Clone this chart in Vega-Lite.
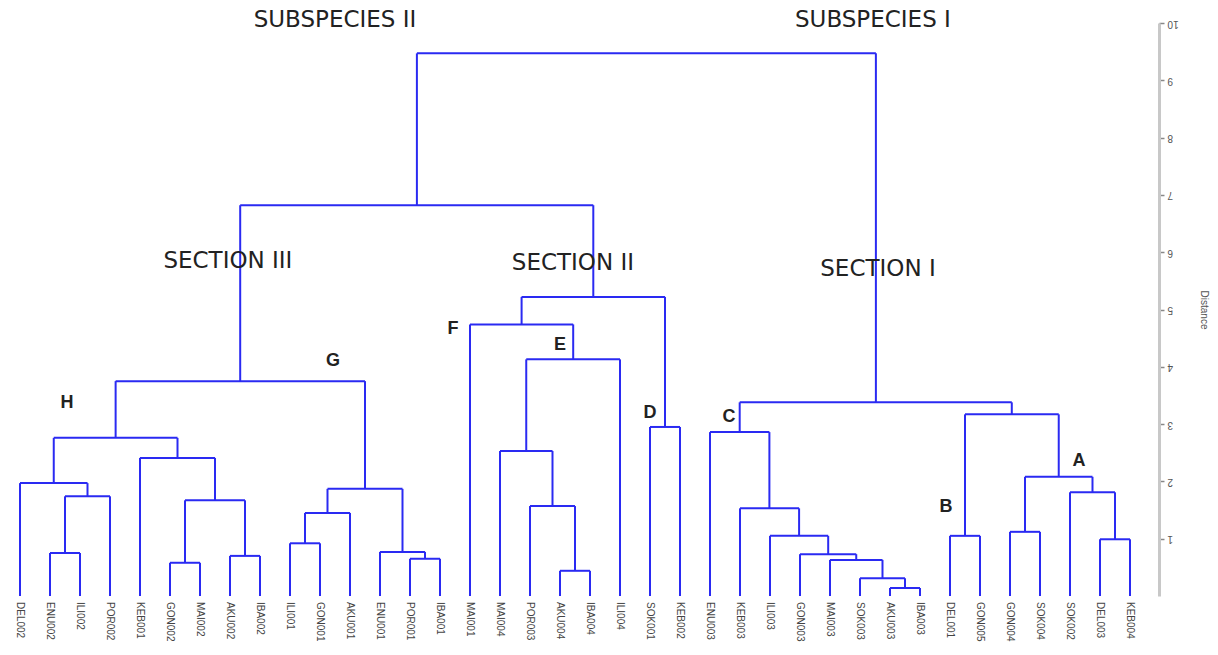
{
  "$schema": "https://vega.github.io/schema/vega-lite/v6.json",
  "width": 1159,
  "height": 573,
  "autosize": "none",
  "padding": {"left": 0, "top": 23, "right": 59, "bottom": 59},
  "background": "white",
  "config": {
    "view": {"stroke": null},
    "axisY": {
      "grid": false,
      "domainColor": "#c8c8c8", "domainWidth": 3,
      "tickColor": "#888888", "tickSize": 5, "tickWidth": 1.5,
      "labelAngle": 180, "labelAlign": "right", "labelBaseline": "middle",
      "labelPadding": 3, "labelFont": "Liberation Sans", "labelFontSize": 10,
      "labelColor": "#555555",
      "titleAngle": 90, "titleFont": "Liberation Sans", "titleFontSize": 10,
      "titleFontWeight": "normal", "titleColor": "#555555", "titlePadding": 20
    }
  },
  "datasets": {
    "leaves": [
      {"i": 0, "name": "DEL002"}, {"i": 1, "name": "ENU002"}, {"i": 2, "name": "ILI002"},
      {"i": 3, "name": "POR002"}, {"i": 4, "name": "KEB001"}, {"i": 5, "name": "GON002"},
      {"i": 6, "name": "MAI002"}, {"i": 7, "name": "AKU002"}, {"i": 8, "name": "IBA002"},
      {"i": 9, "name": "ILI001"}, {"i": 10, "name": "GON001"}, {"i": 11, "name": "AKU001"},
      {"i": 12, "name": "ENU001"}, {"i": 13, "name": "POR001"}, {"i": 14, "name": "IBA001"},
      {"i": 15, "name": "MAI001"}, {"i": 16, "name": "MAI004"}, {"i": 17, "name": "POR003"},
      {"i": 18, "name": "AKU004"}, {"i": 19, "name": "IBA004"}, {"i": 20, "name": "ILI004"},
      {"i": 21, "name": "SOK001"}, {"i": 22, "name": "KEB002"}, {"i": 23, "name": "ENU003"},
      {"i": 24, "name": "KEB003"}, {"i": 25, "name": "ILI003"}, {"i": 26, "name": "GON003"},
      {"i": 27, "name": "MAI003"}, {"i": 28, "name": "SOK003"}, {"i": 29, "name": "AKU003"},
      {"i": 30, "name": "IBA003"}, {"i": 31, "name": "DEL001"}, {"i": 32, "name": "GON005"},
      {"i": 33, "name": "GON004"}, {"i": 34, "name": "SOK004"}, {"i": 35, "name": "SOK002"},
      {"i": 36, "name": "DEL003"}, {"i": 37, "name": "KEB004"}
    ],
    "nodes": [
      {"node": "n1", "xl": 1, "xr": 2, "hl": 0, "hr": 0, "h": 0.75},
      {"node": "n2", "xl": 1.5, "xr": 3, "hl": 0.75, "hr": 0, "h": 1.74},
      {"node": "n3", "xl": 0, "xr": 2.25, "hl": 0, "hr": 1.74, "h": 1.97},
      {"node": "n4", "xl": 5, "xr": 6, "hl": 0, "hr": 0, "h": 0.58},
      {"node": "n5", "xl": 7, "xr": 8, "hl": 0, "hr": 0, "h": 0.7},
      {"node": "n6", "xl": 5.5, "xr": 7.5, "hl": 0.58, "hr": 0.7, "h": 1.67},
      {"node": "n7", "xl": 4, "xr": 6.5, "hl": 0, "hr": 1.67, "h": 2.41},
      {"node": "H", "xl": 1.125, "xr": 5.25, "hl": 1.97, "hr": 2.41, "h": 2.76},
      {"node": "n9", "xl": 9, "xr": 10, "hl": 0, "hr": 0, "h": 0.92},
      {"node": "n10", "xl": 9.5, "xr": 11, "hl": 0.92, "hr": 0, "h": 1.45},
      {"node": "n11", "xl": 13, "xr": 14, "hl": 0, "hr": 0, "h": 0.65},
      {"node": "n12", "xl": 12, "xr": 13.5, "hl": 0, "hr": 0.65, "h": 0.77},
      {"node": "G", "xl": 10.25, "xr": 12.75, "hl": 1.45, "hr": 0.77, "h": 1.87},
      {"node": "S3", "xl": 3.1875, "xr": 11.5, "hl": 2.76, "hr": 1.87, "h": 3.75},
      {"node": "n15", "xl": 18, "xr": 19, "hl": 0, "hr": 0, "h": 0.44},
      {"node": "n16", "xl": 17, "xr": 18.5, "hl": 0, "hr": 0.44, "h": 1.57},
      {"node": "n17", "xl": 16, "xr": 17.75, "hl": 0, "hr": 1.57, "h": 2.53},
      {"node": "E", "xl": 16.875, "xr": 20, "hl": 2.53, "hr": 0, "h": 4.13},
      {"node": "F", "xl": 15, "xr": 18.44, "hl": 0, "hr": 4.13, "h": 4.74},
      {"node": "D", "xl": 21, "xr": 22, "hl": 0, "hr": 0, "h": 2.95},
      {"node": "S2", "xl": 16.72, "xr": 21.5, "hl": 4.74, "hr": 2.95, "h": 5.22},
      {"node": "SP2", "xl": 7.34, "xr": 19.11, "hl": 3.75, "hr": 5.22, "h": 6.82},
      {"node": "n23", "xl": 29, "xr": 30, "hl": 0, "hr": 0, "h": 0.14},
      {"node": "n24", "xl": 28, "xr": 29.5, "hl": 0, "hr": 0.14, "h": 0.31},
      {"node": "n25", "xl": 27, "xr": 28.75, "hl": 0, "hr": 0.31, "h": 0.63},
      {"node": "n26", "xl": 26, "xr": 27.875, "hl": 0, "hr": 0.63, "h": 0.73},
      {"node": "n27", "xl": 25, "xr": 26.94, "hl": 0, "hr": 0.73, "h": 1.05},
      {"node": "n28", "xl": 24, "xr": 25.97, "hl": 0, "hr": 1.05, "h": 1.53},
      {"node": "C", "xl": 23, "xr": 24.98, "hl": 0, "hr": 1.53, "h": 2.86},
      {"node": "B", "xl": 31, "xr": 32, "hl": 0, "hr": 0, "h": 1.05},
      {"node": "n31", "xl": 33, "xr": 34, "hl": 0, "hr": 0, "h": 1.12},
      {"node": "n32", "xl": 36, "xr": 37, "hl": 0, "hr": 0, "h": 0.99},
      {"node": "n33", "xl": 35, "xr": 36.5, "hl": 0, "hr": 0.99, "h": 1.81},
      {"node": "A", "xl": 33.5, "xr": 35.75, "hl": 1.12, "hr": 1.81, "h": 2.08},
      {"node": "n35", "xl": 31.5, "xr": 34.625, "hl": 1.05, "hr": 2.08, "h": 3.17},
      {"node": "S1", "xl": 23.99, "xr": 33.06, "hl": 2.86, "hr": 3.17, "h": 3.38},
      {"node": "root", "xl": 13.23, "xr": 28.53, "hl": 6.82, "hr": 3.38, "h": 9.47}
    ],
    "labels": [
      {"text": "SUBSPECIES  II", "x": 10.5, "y": 10.05, "kind": "big"},
      {"text": "SUBSPECIES I", "x": 28.43, "y": 10.05, "kind": "big"},
      {"text": "SECTION III", "x": 6.93, "y": 5.84, "kind": "big"},
      {"text": "SECTION II", "x": 18.43, "y": 5.81, "kind": "big"},
      {"text": "SECTION I", "x": 28.6, "y": 5.7, "kind": "big"},
      {"text": "H", "x": 1.57, "y": 3.37, "kind": "letter"},
      {"text": "G", "x": 10.43, "y": 4.1, "kind": "letter"},
      {"text": "F", "x": 14.43, "y": 4.66, "kind": "letter"},
      {"text": "E", "x": 18.0, "y": 4.38, "kind": "letter"},
      {"text": "D", "x": 21.0, "y": 3.19, "kind": "letter"},
      {"text": "C", "x": 23.63, "y": 3.12, "kind": "letter"},
      {"text": "B", "x": 30.87, "y": 1.55, "kind": "letter"},
      {"text": "A", "x": 35.3, "y": 2.35, "kind": "letter"}
    ]
  },
  "layer": [
    {
      "data": {"name": "nodes"},
      "mark": {"type": "rule", "color": "#2a2af2", "strokeWidth": 2},
      "encoding": {
        "x": {
          "field": "xl", "type": "quantitative",
          "scale": {"domain": [-0.6667, 37.967], "nice": false, "zero": false},
          "axis": null
        },
        "x2": {"field": "xr"},
        "y": {
          "field": "h", "type": "quantitative",
          "scale": {"domain": [0, 10], "nice": false, "zero": true},
          "axis": {"orient": "right", "title": "Distance", "format": "d", "labelOverlap": false, "values": [1,2,3,4,5,6,7,8,9,10]}
        }
      }
    },
    {
      "data": {"name": "nodes"},
      "mark": {"type": "rule", "color": "#2a2af2", "strokeWidth": 2},
      "encoding": {
        "x": {"field": "xl", "type": "quantitative", "axis": null},
        "y": {"field": "hl", "type": "quantitative"},
        "y2": {"field": "h"}
      }
    },
    {
      "data": {"name": "nodes"},
      "mark": {"type": "rule", "color": "#2a2af2", "strokeWidth": 2},
      "encoding": {
        "x": {"field": "xr", "type": "quantitative", "axis": null},
        "y": {"field": "hr", "type": "quantitative"},
        "y2": {"field": "h"}
      }
    },
    {
      "data": {"name": "leaves"},
      "mark": {"type": "text", "font": "Liberation Sans", "fontSize": 10, "color": "#444444", "angle": 90, "align": "left", "baseline": "middle", "dx": 6},
      "encoding": {
        "x": {"field": "i", "type": "quantitative", "axis": null},
        "y": {"datum": 0, "type": "quantitative"},
        "text": {"field": "name"}
      }
    },
    {
      "data": {"name": "labels"},
      "transform": [{"filter": "datum.kind === 'big'"}],
      "mark": {"type": "text", "font": "DejaVu Sans", "fontSize": 23, "color": "#222222", "align": "center", "baseline": "middle"},
      "encoding": {
        "x": {"field": "x", "type": "quantitative", "axis": null},
        "y": {"field": "y", "type": "quantitative"},
        "text": {"field": "text"}
      }
    },
    {
      "data": {"name": "labels"},
      "transform": [{"filter": "datum.kind === 'letter'"}],
      "mark": {"type": "text", "font": "Liberation Sans", "fontSize": 18, "fontWeight": "bold", "color": "#222222", "align": "center", "baseline": "middle"},
      "encoding": {
        "x": {"field": "x", "type": "quantitative", "axis": null},
        "y": {"field": "y", "type": "quantitative"},
        "text": {"field": "text"}
      }
    }
  ]
}
